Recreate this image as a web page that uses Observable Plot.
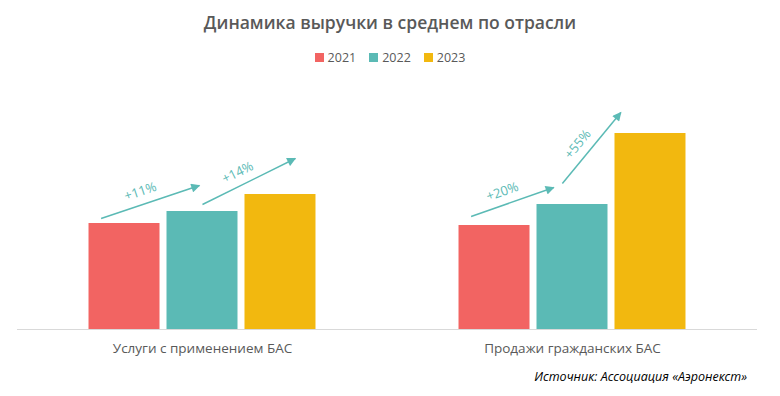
<!DOCTYPE html>
<html><head><meta charset="utf-8">
<script src="https://cdn.jsdelivr.net/npm/d3@7"></script>
<script src="https://cdn.jsdelivr.net/npm/@observablehq/plot@0.6"></script>
<style>
body{margin:0;background:#fff;font-family:"Open Sans",sans-serif;width:780px;height:396px;overflow:hidden}
#title{height:44px;line-height:44px;text-align:center;font-size:17.5px;font-weight:600;color:#595959}
#legend{height:26px;display:flex;justify-content:center;align-items:center;font-size:12.5px;color:#595959}
.item{display:flex;align-items:center;margin:0 6.5px}
.sw{width:9px;height:9px;margin-right:4px}
#chart svg{display:block}
#source{height:24px;line-height:24px;text-align:right;padding-right:33px;font-style:italic;font-size:12.5px;color:#000}
</style></head><body>
<div id="title">Динамика выручки в среднем по отрасли</div>
<div id="legend"></div>
<div id="chart"></div>
<div id="source">Источник: Ассоциация «Аэронекст»</div>
<script>
// ---- data ----
const categories = ["Услуги с применением БАС", "Продажи гражданских БАС"];
const years = ["2021", "2022", "2023"];
const servicesRevenue = [106, 118, 135];
const salesRevenue = [104, 125, 196];
const growthLabels = [["+11%", "+14%"], ["+20%", "+55%"]];

// ---- style / layout ----
const palette = ["#F26462", "#5BBAB5", "#F2B80F"];
const accent = "#5BBAB5";
// annotation arrow offsets relative to the bars they connect: [startDx, startDy, endDx, endDy]
const arrowLayout = [
  [[-0.3, 5, -0.04, 26], [0.0, 7, 0.19, 36]],
  [[-0.3, 9, -0.24, 17], [-0.13, 21, -0.38, 21]]
];

const series = [servicesRevenue, salesRevenue];
const rows = categories.flatMap((c, ci) => years.map((y, yi) => ({cat: c, year: y, yi, value: series[ci][yi]})));

// legend
const legend = document.getElementById("legend");
years.forEach((y, i) => {
  const it = document.createElement("div"); it.className = "item";
  const sw = document.createElement("div"); sw.className = "sw"; sw.style.background = palette[i];
  const t = document.createElement("span"); t.textContent = y;
  it.append(sw, t); legend.append(it);
});

const base = {
  width: 780, height: 295, marginTop: 0, marginBottom: 36, marginLeft: 17, marginRight: 23,
  style: {fontFamily: '"Open Sans",sans-serif', background: "white", overflow: "visible"},
  x: {domain: [-1.372, 3.372], axis: null},
  y: {domain: [0, 259], axis: null},
  fx: {domain: categories, padding: 0, axis: null, label: null},
  color: {domain: years, range: palette}
};

const bars = Plot.rect(rows, {fx: "cat", x1: d => d.yi - 0.5, x2: d => d.yi + 0.5, y1: 0, y2: "value", fill: "year", insetLeft: 3.5, insetRight: 3.5});

// first pass to read scales
const p0 = Plot.plot({...base, marks: [bars]});
const sx = p0.scale("x"), sy = p0.scale("y");
const kx = sx.apply(1) - sx.apply(0), ky = sy.apply(1) - sy.apply(0);

const arrows = [];
categories.forEach((c, ci) => growthLabels[ci].forEach((lab, k) => {
  const L = arrowLayout[ci][k];
  const a = {cat: c, label: lab,
    x1: k + L[0], y1: series[ci][k] + L[1],
    x2: k + 1 + L[2], y2: series[ci][k + 1] + L[3]};
  const dxp = (a.x2 - a.x1) * kx, dyp = (a.y2 - a.y1) * ky;
  const len = Math.hypot(dxp, dyp), ux = dxp / len, uy = dyp / len;
  a.angle = Math.atan2(dyp, dxp) * 180 / Math.PI;
  const ox = ux * -6 + uy * 13, oy = uy * -6 - ux * 13;
  a.lx = (a.x1 + a.x2) / 2 + ox / kx;
  a.ly = (a.y1 + a.y2) / 2 + oy / ky;
  arrows.push(a);
}));

const plot = Plot.plot({
  ...base,
  marks: [
    Plot.ruleY([0], {stroke: "#d9d9d9", strokeWidth: 1}),
    bars,
    Plot.link(arrows, {fx: "cat", x1: "x1", y1: "y1", x2: "x2", y2: "y2", stroke: accent, strokeWidth: 1.5}),
    Plot.text(arrows, {fx: "cat", x: "lx", y: "ly", text: "label", rotate: "angle", fill: accent, fontSize: 13}),
    Plot.axisFx({anchor: "bottom", tickSize: 0, tickPadding: 14, fontSize: 13.5, fill: "#595959", label: null})
  ]
});

const ns = "http://www.w3.org/2000/svg";
const defs = document.createElementNS(ns, "defs");
defs.innerHTML = '<marker id="ahead" viewBox="0 0 10 10" refX="9" refY="5" markerUnits="userSpaceOnUse" markerWidth="10" markerHeight="9" orient="auto"><path d="M0,0L10,5L0,10Z" fill="' + accent + '"/></marker>';
plot.prepend(defs);
plot.querySelectorAll('g[aria-label="link"] path').forEach(p => p.setAttribute("marker-end", "url(#ahead)"));
document.getElementById("chart").append(plot);
</script>
</body></html>
